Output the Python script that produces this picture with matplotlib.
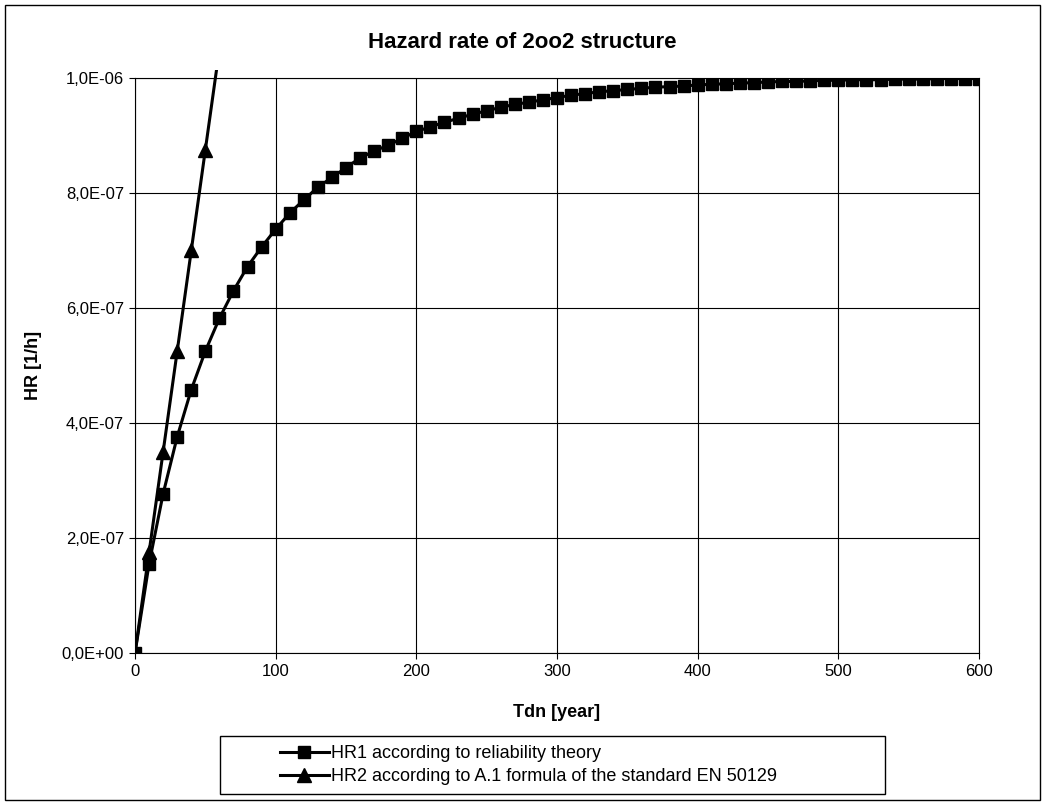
import matplotlib
matplotlib.use("Agg")
import matplotlib.pyplot as plt
from matplotlib.patches import Rectangle
from matplotlib.ticker import FuncFormatter, MultipleLocator
from matplotlib.lines import Line2D
from matplotlib.transforms import Bbox, TransformedBbox

plt.rcParams['font.family'] = ['Liberation Sans', 'DejaVu Sans']

# ---- data ----
tdn_hr1 = [0, 10, 20, 30, 40, 50, 60, 70, 80, 90, 100, 110, 120, 130, 140, 150,
           160, 170, 180, 190, 200, 210, 220, 230, 240, 250, 260, 270, 280, 290,
           300, 310, 320, 330, 340, 350, 360, 370, 380, 390, 400, 410, 420, 430,
           440, 450, 460, 470, 480, 490, 500, 510, 520, 530, 540, 550, 560, 570,
           580, 590, 600]
hr1 = [0.00, 1.55, 2.77, 3.76, 4.58, 5.25, 5.82, 6.30, 6.72, 7.06, 7.37, 7.65,
       7.88, 8.10, 8.27, 8.44, 8.61, 8.73, 8.83, 8.95, 9.07, 9.15, 9.23, 9.30,
       9.37, 9.43, 9.49, 9.54, 9.58, 9.62, 9.66, 9.70, 9.73, 9.76, 9.78, 9.80,
       9.82, 9.84, 9.85, 9.86, 9.88, 9.89, 9.90, 9.91, 9.92, 9.93, 9.94, 9.94,
       9.95, 9.96, 9.96, 9.97, 9.97, 9.97, 9.98, 9.98, 9.98, 9.99, 9.99, 9.99,
       9.99]
hr1 = [v * 1e-7 for v in hr1]

tdn_hr2 = [0, 10, 20, 30, 40, 50, 60]
hr2 = [0.0, 1.75, 3.50, 5.25, 7.00, 8.75, 10.50]
hr2 = [v * 1e-7 for v in hr2]

title = "Hazard rate of 2oo2 structure"
xlabel = "Tdn [year]"
ylabel = "HR [1/h]"
label1 = "HR1 according to reliability theory"
label2 = "HR2 according to A.1 formula of the standard EN 50129"

W, H = 1045, 805
fig = plt.figure(figsize=(W / 100, H / 100), dpi=100)
L, R, T, B = 135, 979, 78, 653
ax = fig.add_axes([L / W, 1 - B / H, (R - L) / W, (B - T) / H])

ax.plot(tdn_hr1, hr1, color='black', lw=2.2, marker='s', markersize=8.5,
        zorder=3)
l2, = ax.plot(tdn_hr2, hr2, color='black', lw=2.2, marker='^', markersize=10,
              zorder=4)
l2.set_clip_box(TransformedBbox(Bbox([[0, 0], [1, 1.014]]), ax.transAxes))

ax.set_xlim(0, 600)
ax.set_ylim(0, 1e-6)
ax.xaxis.set_major_locator(MultipleLocator(100))
ax.yaxis.set_major_locator(MultipleLocator(2e-7))
ax.yaxis.set_major_formatter(FuncFormatter(lambda v, p: f"{v:.1E}".replace('.', ',')))
ax.grid(True, color='black', lw=0.8)
ax.set_axisbelow(True)
for s in ax.spines.values():
    s.set_linewidth(0.8)
    s.set_color('black')
ax.tick_params(direction='out', length=4, width=0.8, labelsize=12, pad=4)

fig.text(522 / W, 1 - 42 / H, title, ha='center', va='center',
         fontsize=16, fontweight='bold')
fig.text(557 / W, 1 - 712 / H, xlabel, ha='center', va='center',
         fontsize=13, fontweight='bold')
fig.text(33 / W, 1 - 365 / H, ylabel, ha='center', va='center',
         fontsize=13, fontweight='bold', rotation=90)

# outer border
fig.patches.append(Rectangle((5 / W, 5 / H), (1040 - 5) / W, (800 - 5) / H,
                             transform=fig.transFigure, fill=False,
                             edgecolor='black', lw=1))
# legend box
fig.patches.append(Rectangle((220 / W, 1 - 794 / H), (885 - 220) / W, (794 - 736) / H,
                             transform=fig.transFigure, fill=False,
                             edgecolor='black', lw=1))
handles = [Line2D([], [], color='black', lw=2.2, marker='s', markersize=8.5),
           Line2D([], [], color='black', lw=2.2, marker='^', markersize=10)]
fig.legend(handles, [label1, label2], loc='center left',
           bbox_to_anchor=(280 / W, 1 - 765 / H), frameon=False,
           fontsize=13, handlelength=2.7, handletextpad=0.1,
           labelspacing=0.35, borderpad=0.0, borderaxespad=0.0)

fig.savefig("out.png", dpi=100)
